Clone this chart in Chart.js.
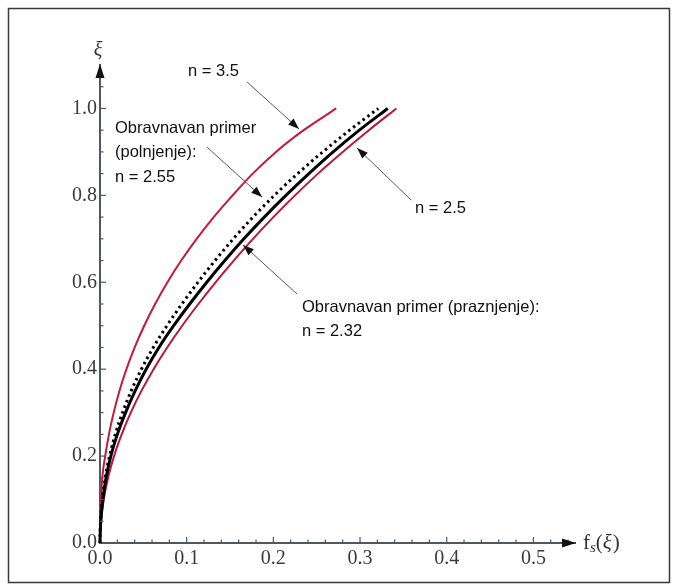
<!DOCTYPE html>
<html>
<head>
<meta charset="utf-8">
<script src="https://cdn.jsdelivr.net/npm/chart.js@4/dist/chart.umd.min.js"></script>
<style>
html,body{margin:0;padding:0;background:#fff;}
#wrap{position:relative;width:678px;height:587px;}
</style>
</head>
<body>
<div id="wrap"><canvas id="c"></canvas></div>
<script>
// ξ values shared by all curves
const xiGrid = [0,0.02,0.05,0.1,0.15,0.2,0.25,0.3,0.35,0.4,0.45,0.5,0.55,0.6,0.65,0.7,0.75,0.8,0.85,0.9,0.95,1.0];
// f_s(ξ) values, per curve
const fsN350 = [0,0.0001,0.0004,0.0011,0.0026,0.0060,0.0103,0.0158,0.0224,0.0305,0.0400,0.0510,0.0636,0.0778,0.0937,0.1115,0.1312,0.1530,0.1762,0.2030,0.2350,0.2725];
const fsN255 = [0,0.0001,0.0006,0.0026,0.0060,0.0110,0.0176,0.0260,0.0360,0.0478,0.0615,0.0772,0.0945,0.1130,0.1328,0.1538,0.1765,0.2012,0.2280,0.2570,0.2880,0.3211];
const fsN232 = [0,0.0002,0.0009,0.0033,0.0070,0.0125,0.0200,0.0295,0.0405,0.0532,0.0680,0.0850,0.1035,0.1232,0.1440,0.1660,0.1895,0.2145,0.2410,0.2690,0.2992,0.3320];
const fsN250 = [0,0.0002,0.0012,0.0043,0.0093,0.0162,0.0250,0.0355,0.0478,0.0618,0.0775,0.0948,0.1135,0.1333,0.1543,0.1765,0.2000,0.2250,0.2515,0.2800,0.3102,0.3420];

// tick label values
const xTickValues = [0,0.1,0.2,0.3,0.4,0.5];
const yTickValues = [0,0.2,0.4,0.6,0.8,1.0];

// annotation texts
const noteN35 = ['n = 3.5'];
const noteFill = ['Obravnavan primer','(polnjenje):','n = 2.55'];
const noteN25 = ['n = 2.5'];
const noteDrain = ['Obravnavan primer (praznjenje):','n = 2.32'];

function pts(xs){ return xs.map((x,i)=>({x:x,y:xiGrid[i]})); }

const AXIS = '#4d5860';
const annotPlugin = {
  id:'annot',
  beforeDraw(chart){
    const c = chart.ctx;
    c.save();
    c.fillStyle = '#fff';
    c.fillRect(0,0,chart.width,chart.height);
    c.strokeStyle = '#3a3a3a';
    c.lineWidth = 1.5;
    c.strokeRect(8.5,8.5,661,574);
    c.restore();
  },
  afterDraw(chart){
    const c = chart.ctx, xs = chart.scales.x, ys = chart.scales.y;
    const X = v => xs.getPixelForValue(v), Y = v => ys.getPixelForValue(v);
    const a = chart.chartArea;
    c.save();
    // minor / major tick marks (inside)
    c.strokeStyle = AXIS; c.lineWidth = 1.2;
    for (let i=1;i<=27;i++){
      const p = X(i*0.02), len = (i%5===0)?6:3.5;
      c.beginPath(); c.moveTo(p,a.bottom); c.lineTo(p,a.bottom-len); c.stroke();
    }
    for (let i=1;i<=21;i++){
      const p = Y(i*0.05), len = (i%4===0)?6:3.5;
      c.beginPath(); c.moveTo(a.left,p); c.lineTo(a.left+len,p); c.stroke();
    }
    // axis arrowheads
    c.fillStyle = '#111';
    c.beginPath(); c.moveTo(a.right+1,a.bottom); c.lineTo(a.right-13,a.bottom-4.5); c.lineTo(a.right-13,a.bottom+4.5); c.closePath(); c.fill();
    c.beginPath(); c.moveTo(a.left,a.top-1); c.lineTo(a.left-4.5,a.top+13); c.lineTo(a.left+4.5,a.top+13); c.closePath(); c.fill();
    // axis titles
    c.fillStyle = '#333';
    c.textBaseline = 'middle';
    c.textAlign = 'center';
    c.font = 'italic 20px "Liberation Serif"';
    c.fillText('ξ', a.left-2, a.top-14);
    c.textAlign = 'left';
    c.font = '21px "Liberation Serif"';
    let tx = a.right+8, ty = a.bottom;
    c.fillText('f', tx, ty); tx += c.measureText('f').width;
    c.font = 'italic 15px "Liberation Serif"';
    c.fillText('s', tx, ty+5); tx += c.measureText('s').width;
    c.font = '21px "Liberation Serif"';
    c.fillText('(', tx, ty); tx += c.measureText('(').width;
    c.font = 'italic 21px "Liberation Serif"';
    c.fillText('ξ', tx, ty); tx += c.measureText('ξ').width + 1;
    c.font = '21px "Liberation Serif"';
    c.fillText(')', tx, ty);
    // notes
    function arrow(x1,y1,x2,y2){
      const px1=X(x1),py1=Y(y1),px2=X(x2),py2=Y(y2);
      c.strokeStyle='#5a5a5a'; c.lineWidth=1;
      c.beginPath(); c.moveTo(px1,py1); c.lineTo(px2,py2); c.stroke();
      const ang=Math.atan2(py2-py1,px2-px1), L=11, W=4;
      c.fillStyle='#111';
      c.beginPath(); c.moveTo(px2,py2);
      c.lineTo(px2-L*Math.cos(ang)+W*Math.sin(ang), py2-L*Math.sin(ang)-W*Math.cos(ang));
      c.lineTo(px2-L*Math.cos(ang)-W*Math.sin(ang), py2-L*Math.sin(ang)+W*Math.cos(ang));
      c.closePath(); c.fill();
    }
    function note(lines,x,y){
      c.fillStyle='#111'; c.textAlign='left'; c.textBaseline='middle';
      c.font='16.5px "Liberation Sans"';
      lines.forEach((t,i)=>c.fillText(t, X(x), Y(y)+i*24.5));
    }
    note(noteN35, 0.1015, 1.084);
    arrow(0.1696,1.061,0.2296,0.953);
    note(noteFill, 0.0173, 0.955);
    arrow(0.1235,0.911,0.187,0.796);
    note(noteN25, 0.3635, 0.771);
    arrow(0.359,0.789,0.2966,0.909);
    note(noteDrain, 0.233, 0.543);
    arrow(0.2273,0.573,0.165,0.686);
    c.restore();
  }
};

const tickFont = {family:'"Liberation Serif"', size:20};
new Chart(document.getElementById('c'), {
  type:'scatter',
  data:{datasets:[
    {label:'n = 2.32', data:pts(fsN232), borderColor:'#000', borderWidth:3},
    {label:'n = 2.55', data:pts(fsN255), borderColor:'#000', borderWidth:3, borderDash:[2.5,3.5]},
    {label:'n = 3.5', data:pts(fsN350), borderColor:'#c41a36', borderWidth:2},
    {label:'n = 2.5', data:pts(fsN250), borderColor:'#b8163f', borderWidth:2}
  ].map(d=>Object.assign({showLine:true, pointRadius:0, cubicInterpolationMode:'monotone', clip:false, fill:false}, d))},
  options:{
    responsive:true, maintainAspectRatio:false, animation:false,
    layout:{padding:{top:65,right:103,bottom:0,left:0}},
    plugins:{legend:{display:false}, tooltip:{enabled:false}},
    scales:{
      x:{type:'linear', min:0, max:0.548,
        grid:{display:false, drawTicks:false},
        border:{display:true, color:AXIS, width:2},
        afterBuildTicks:s=>{ s.ticks = xTickValues.map(v=>({value:v})); },
        afterFit:s=>{ s.height = 44; },
        ticks:{font:tickFont, color:'#3a3a3a', padding:4, maxRotation:0, autoSkip:false, callback:v=>Number(v).toFixed(1)}},
      y:{type:'linear', min:0, max:1.1,
        grid:{display:false, drawTicks:false},
        border:{display:true, color:AXIS, width:2},
        afterBuildTicks:s=>{ s.ticks = yTickValues.map(v=>({value:v})); },
        afterFit:s=>{ s.width = 100; },
        ticks:{font:tickFont, color:'#3a3a3a', padding:3, autoSkip:false, callback:v=>Number(v).toFixed(1)}}
    }
  },
  plugins:[annotPlugin]
});
</script>
</body>
</html>
